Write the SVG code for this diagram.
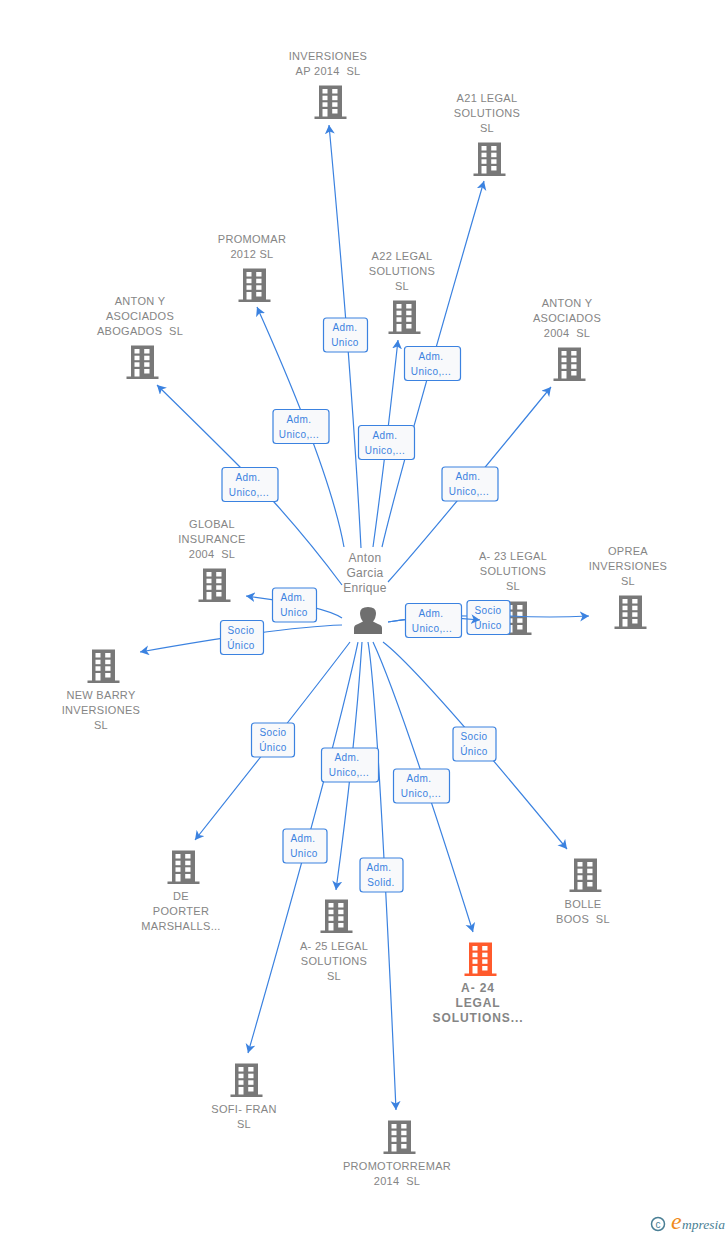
<svg xmlns="http://www.w3.org/2000/svg" width="728" height="1235" viewBox="0 0 728 1235">
<style>
text{font-family:"Liberation Sans",Arial,sans-serif;white-space:pre}
.n{font-size:11px;fill:#858585;text-anchor:middle;letter-spacing:.3px}
.h{font-weight:bold;font-size:12px;letter-spacing:.9px}
.p{font-size:12px;fill:#858585;text-anchor:middle;letter-spacing:.3px}
.l{font-size:10px;fill:#3b82e0;text-anchor:middle;letter-spacing:.4px}
.b{fill:#f8f9fb;stroke:#3b82e0;stroke-width:1.2}
.c{fill:none;stroke:#3b82e0;stroke-width:1.2;marker-end:url(#a)}
.d{fill:none;stroke:#3b82e0;stroke-width:1.2}
.w{fill:#fff}
</style>
<defs>
<marker id="a" markerUnits="userSpaceOnUse" markerWidth="11" markerHeight="11" refX="9" refY="5" orient="auto"><path d="M0 0L9 5L0 10L2.500 5Z" fill="#3b82e0"/></marker>
<g id="bd"><path d="M-11-16.500H12V14.500H16.500V17H-15.500V14.500H-11Z"/><g class="w"><rect x="-7.500" y="-13" width="5" height="4.500"/><rect x="2.200" y="-13" width="5.300" height="4.500"/><rect x="-7.500" y="-6.300" width="5" height="4.500"/><rect x="2.200" y="-6.300" width="5.300" height="4.500"/><rect x="-7.500" y="0.300" width="5" height="4.500"/><rect x="2.200" y="0.300" width="5.300" height="4.500"/><rect x="-7.500" y="7" width="5" height="7.500"/><rect x="2.200" y="7" width="5.300" height="4.500"/></g></g>
</defs>
<rect width="728" height="1235" fill="#fff"/>
<g id="n8" fill="#787878"><use href="#bd" x="515" y="618"/><text class="n" x="513" y="560">A- 23 LEGAL</text><text class="n" x="513" y="575">SOLUTIONS</text><text class="n" x="513" y="590">SL</text></g>
<g id="e10"><rect class="b" x="467" y="600.500" width="43" height="34" rx="3"/><text class="l" x="488" y="614">Socio</text><text class="l" x="488" y="629">Único</text></g>
<g id="connectors">
<path class="c" d="M361 548Q352 374 329 125"/>
<path class="c" d="M382 547Q400 470 484 181"/>
<path class="c" d="M373 547Q385 460 398 340"/>
<path class="c" d="M344 547Q330 470 257 307"/>
<path class="c" d="M342 585Q310 542 274 502Q250 476 157 385"/>
<path class="c" d="M388 582Q430 535 551 387"/>
<path class="c" d="M342 618Q325 606 246 596"/>
<path class="c" d="M342 625Q280 627 140 652"/>
<path class="c" d="M388 622Q430 615 480 620"/>
<path class="d" d="M388 622Q430 615 467 616"/>
<path class="c" d="M510 616Q550 618 589 616"/>
<path class="c" d="M383 642Q420 670 567 849"/>
<path class="c" d="M373 642Q400 700 473 932"/>
<path class="c" d="M368 642Q378 700 396 1110"/>
<path class="c" d="M362 642Q355 750 336 890"/>
<path class="c" d="M358 642Q335 750 248 1053"/>
<path class="c" d="M350 642Q310 695 195 840"/>
</g>
<g id="n1" fill="#787878"><use href="#bd" x="330" y="102"/><text class="n" x="328" y="60">INVERSIONES</text><text class="n" x="328" y="75">AP 2014  SL</text></g>
<g id="n2" fill="#787878"><use href="#bd" x="489" y="159"/><text class="n" x="487" y="102">A21 LEGAL</text><text class="n" x="487" y="117">SOLUTIONS</text><text class="n" x="487" y="132">SL</text></g>
<g id="n3" fill="#787878"><use href="#bd" x="254" y="285"/><text class="n" x="252" y="243">PROMOMAR</text><text class="n" x="252" y="258">2012 SL</text></g>
<g id="n4" fill="#787878"><use href="#bd" x="404" y="317"/><text class="n" x="402" y="260">A22 LEGAL</text><text class="n" x="402" y="275">SOLUTIONS</text><text class="n" x="402" y="290">SL</text></g>
<g id="n5" fill="#787878"><use href="#bd" x="142" y="362"/><text class="n" x="140" y="305">ANTON Y</text><text class="n" x="140" y="320">ASOCIADOS</text><text class="n" x="140" y="335">ABOGADOS  SL</text></g>
<g id="n6" fill="#787878"><use href="#bd" x="569" y="364"/><text class="n" x="567" y="307">ANTON Y</text><text class="n" x="567" y="322">ASOCIADOS</text><text class="n" x="567" y="337">2004  SL</text></g>
<g id="n7" fill="#787878"><use href="#bd" x="214" y="585"/><text class="n" x="212" y="528">GLOBAL</text><text class="n" x="212" y="543">INSURANCE</text><text class="n" x="212" y="558">2004  SL</text></g>
<g id="n9" fill="#787878"><use href="#bd" x="630" y="612"/><text class="n" x="628" y="555">OPREA</text><text class="n" x="628" y="570">INVERSIONES</text><text class="n" x="628" y="585">SL</text></g>
<g id="n10" fill="#787878"><use href="#bd" x="103" y="666"/><text class="n" x="101" y="699">NEW BARRY</text><text class="n" x="101" y="714">INVERSIONES</text><text class="n" x="101" y="729">SL</text></g>
<g id="n11" fill="#787878"><use href="#bd" x="183" y="867"/><text class="n" x="181" y="900">DE</text><text class="n" x="181" y="915">POORTER</text><text class="n" x="181" y="930">MARSHALLS...</text></g>
<g id="n12" fill="#787878"><use href="#bd" x="585" y="875"/><text class="n" x="583" y="908">BOLLE</text><text class="n" x="583" y="923">BOOS  SL</text></g>
<g id="n13" fill="#787878"><use href="#bd" x="336" y="916"/><text class="n" x="334" y="950">A- 25 LEGAL</text><text class="n" x="334" y="965">SOLUTIONS</text><text class="n" x="334" y="980">SL</text></g>
<g id="n14" fill="#ff5a2c"><use href="#bd" x="480" y="959"/><text class="n h" x="478" y="992">A- 24</text><text class="n h" x="478" y="1007">LEGAL</text><text class="n h" x="478" y="1022">SOLUTIONS...</text></g>
<g id="n15" fill="#787878"><use href="#bd" x="246" y="1080"/><text class="n" x="244" y="1113">SOFI- FRAN</text><text class="n" x="244" y="1128">SL</text></g>
<g id="n16" fill="#787878"><use href="#bd" x="399" y="1137"/><text class="n" x="397" y="1170">PROMOTORREMAR</text><text class="n" x="397" y="1185">2014  SL</text></g>
<g id="person"><text class="p" x="365" y="562">Anton</text><text class="p" x="365" y="577">Garcia</text><text class="p" x="365" y="592">Enrique</text><path d="M354 634V628Q354 625 358 624L363 621.500Q360 618 360 613Q360 607 368 607Q376 607 376 613Q376 618 373 621.500L378 624Q382 625 382 628V634Z" fill="#6f6f6f"/></g>
<g id="labels">
<g id="e1"><rect class="b" x="323.500" y="318" width="44" height="34" rx="3"/><text class="l" x="345" y="331">Adm.</text><text class="l" x="345" y="346">Unico</text></g>
<g id="e2"><rect class="b" x="404.500" y="346.500" width="56" height="34" rx="3"/><text class="l" x="431" y="360">Adm.</text><text class="l" x="431" y="375">Unico,...</text></g>
<g id="e3"><rect class="b" x="358.500" y="425.500" width="56" height="34" rx="3"/><text class="l" x="385" y="439">Adm.</text><text class="l" x="385" y="454">Unico,...</text></g>
<g id="e4"><rect class="b" x="273" y="409.500" width="56" height="34" rx="3"/><text class="l" x="299" y="423">Adm.</text><text class="l" x="299" y="438">Unico,...</text></g>
<g id="e5"><rect class="b" x="222" y="467.500" width="56" height="34" rx="3"/><text class="l" x="248" y="481">Adm.</text><text class="l" x="249" y="496">Unico,...</text></g>
<g id="e6"><rect class="b" x="442" y="467" width="56" height="34" rx="3"/><text class="l" x="468" y="480">Adm.</text><text class="l" x="469" y="495">Unico,...</text></g>
<g id="e7"><rect class="b" x="272.500" y="588" width="44" height="34" rx="3"/><text class="l" x="293" y="601">Adm.</text><text class="l" x="294" y="616">Unico</text></g>
<g id="e8"><rect class="b" x="220.500" y="620.500" width="43" height="34" rx="3"/><text class="l" x="241" y="634">Socio</text><text class="l" x="241" y="649">Único</text></g>
<g id="e9"><rect class="b" x="405.500" y="603.500" width="56" height="34" rx="3"/><text class="l" x="431" y="617">Adm.</text><text class="l" x="432" y="632">Unico,...</text></g>
<g id="e11"><rect class="b" x="251.500" y="723" width="43" height="34" rx="3"/><text class="l" x="273" y="736">Socio</text><text class="l" x="273" y="751">Único</text></g>
<g id="e12"><rect class="b" x="453" y="727" width="43" height="34" rx="3"/><text class="l" x="474" y="740">Socio</text><text class="l" x="474" y="755">Único</text></g>
<g id="e13"><rect class="b" x="321.500" y="748" width="57" height="34" rx="3"/><text class="l" x="347" y="761">Adm.</text><text class="l" x="349" y="776">Unico,...</text></g>
<g id="e14"><rect class="b" x="393.500" y="769" width="56" height="34" rx="3"/><text class="l" x="419" y="782">Adm.</text><text class="l" x="421" y="797">Unico,...</text></g>
<g id="e15"><rect class="b" x="283" y="829" width="44" height="34" rx="3"/><text class="l" x="303" y="842">Adm.</text><text class="l" x="304" y="857">Unico</text></g>
<g id="e16"><rect class="b" x="360" y="858" width="43" height="34" rx="3"/><text class="l" x="379" y="871">Adm.</text><text class="l" x="381" y="886">Solid.</text></g>
</g>
<g id="logo"><circle cx="658" cy="1224" r="6.500" fill="none" stroke="#4a7f95" stroke-width="1.500"/><text x="658" y="1227.500" font-size="10" fill="#4a7f95" text-anchor="middle">c</text><text x="671" y="1229" font-size="24" font-style="italic" fill="#f08a1c" style="font-family:'Liberation Serif',serif">e</text><text x="682" y="1229" font-size="13.500" font-style="italic" fill="#4a7f95" style="font-family:'Liberation Serif',serif">mpresia</text></g>
</svg>
